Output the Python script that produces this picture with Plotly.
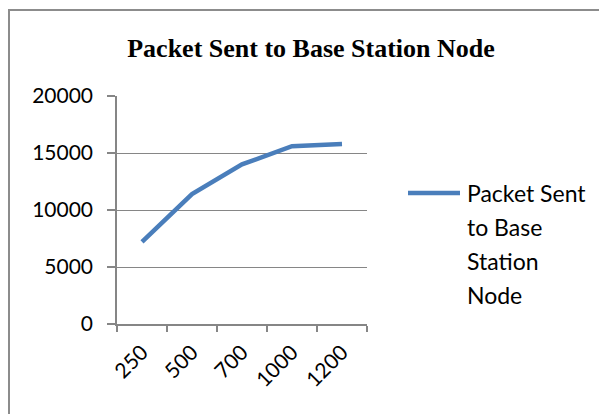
import plotly.graph_objects as go

categories = ["250", "500", "700", "1000", "1200"]
packets_sent = [7200, 11400, 14000, 15600, 15800]
series_name = "Packet Sent to Base Station Node"
legend_lines = ["Packet Sent", "to Base", "Station", "Node"]
y_ticks = [0, 5000, 10000, 15000, 20000]
y_tick_text = ["0", "5000", "10000", "15000", "20000"]

OFF = 8  # page body margin
W, H = 607 - OFF, 414 - OFF
L, R, T, B = 117 - OFF, 367 - OFF, 96 - OFF, 324 - OFF

def px(x):
    return (x - OFF - L) / (R - L)

def py(y):
    return (B - (y - OFF)) / (B - T)

blue = "#4a7ebb"
gray = "#868686"
txt_font = "Lato"

fig = go.Figure()
fig.add_trace(go.Scatter(
    x=categories, y=packets_sent, mode="lines", name=series_name,
    line=dict(color=blue, width=4.5), showlegend=False,
))

shapes = [
    dict(type="rect", xref="paper", yref="paper",
         x0=px(9), x1=px(660), y0=py(460), y1=py(10),
         line=dict(color="#8c8c8c", width=2), fillcolor="rgba(0,0,0,0)", layer="below"),
    dict(type="line", xref="paper", yref="paper",
         x0=px(408), x1=px(460), y0=py(193), y1=py(193),
         line=dict(color=blue, width=4.5)),
]
annotations = []
for i, t in enumerate(legend_lines):
    annotations.append(dict(
        text=t, xref="paper", yref="paper", x=px(465), y=py(193 + i * 34),
        xanchor="left", yanchor="middle", showarrow=False,
        font=dict(family=txt_font, size=23, color="#000000"),
    ))

fig.update_layout(
    width=W, height=H,
    margin=dict(l=L, r=W - R, t=T, b=H - B, pad=0),
    paper_bgcolor="white", plot_bgcolor="white",
    title=dict(text="<b>Packet Sent to Base Station Node</b>",
               x=(311 - OFF) / W, xref="container", xanchor="center",
               y=1 - (48 - OFF) / H, yref="container", yanchor="middle",
               font=dict(family="Liberation Serif", size=26, color="#000000")),
    xaxis=dict(type="category", range=[-0.5, 4.5], tickson="boundaries",
               showline=True, linecolor=gray, linewidth=1.5,
               ticks="outside", ticklen=6, tickcolor=gray, tickwidth=1.5,
               showgrid=False, tickangle=-45, ticklabelstandoff=6,
               tickfont=dict(family=txt_font, size=21, color="#000000")),
    yaxis=dict(range=[0, 20000], tickvals=y_ticks, ticktext=y_tick_text,
               showline=True, linecolor=gray, linewidth=1.5,
               ticks="outside", ticklen=8, tickcolor=gray, tickwidth=1.5,
               showgrid=True, gridcolor=gray, gridwidth=1.2, zeroline=False,
               ticklabelstandoff=10,
               tickfont=dict(family=txt_font, size=21, color="#000000")),
    shapes=shapes, annotations=annotations, showlegend=False,
)

fig.write_html("out.html")
